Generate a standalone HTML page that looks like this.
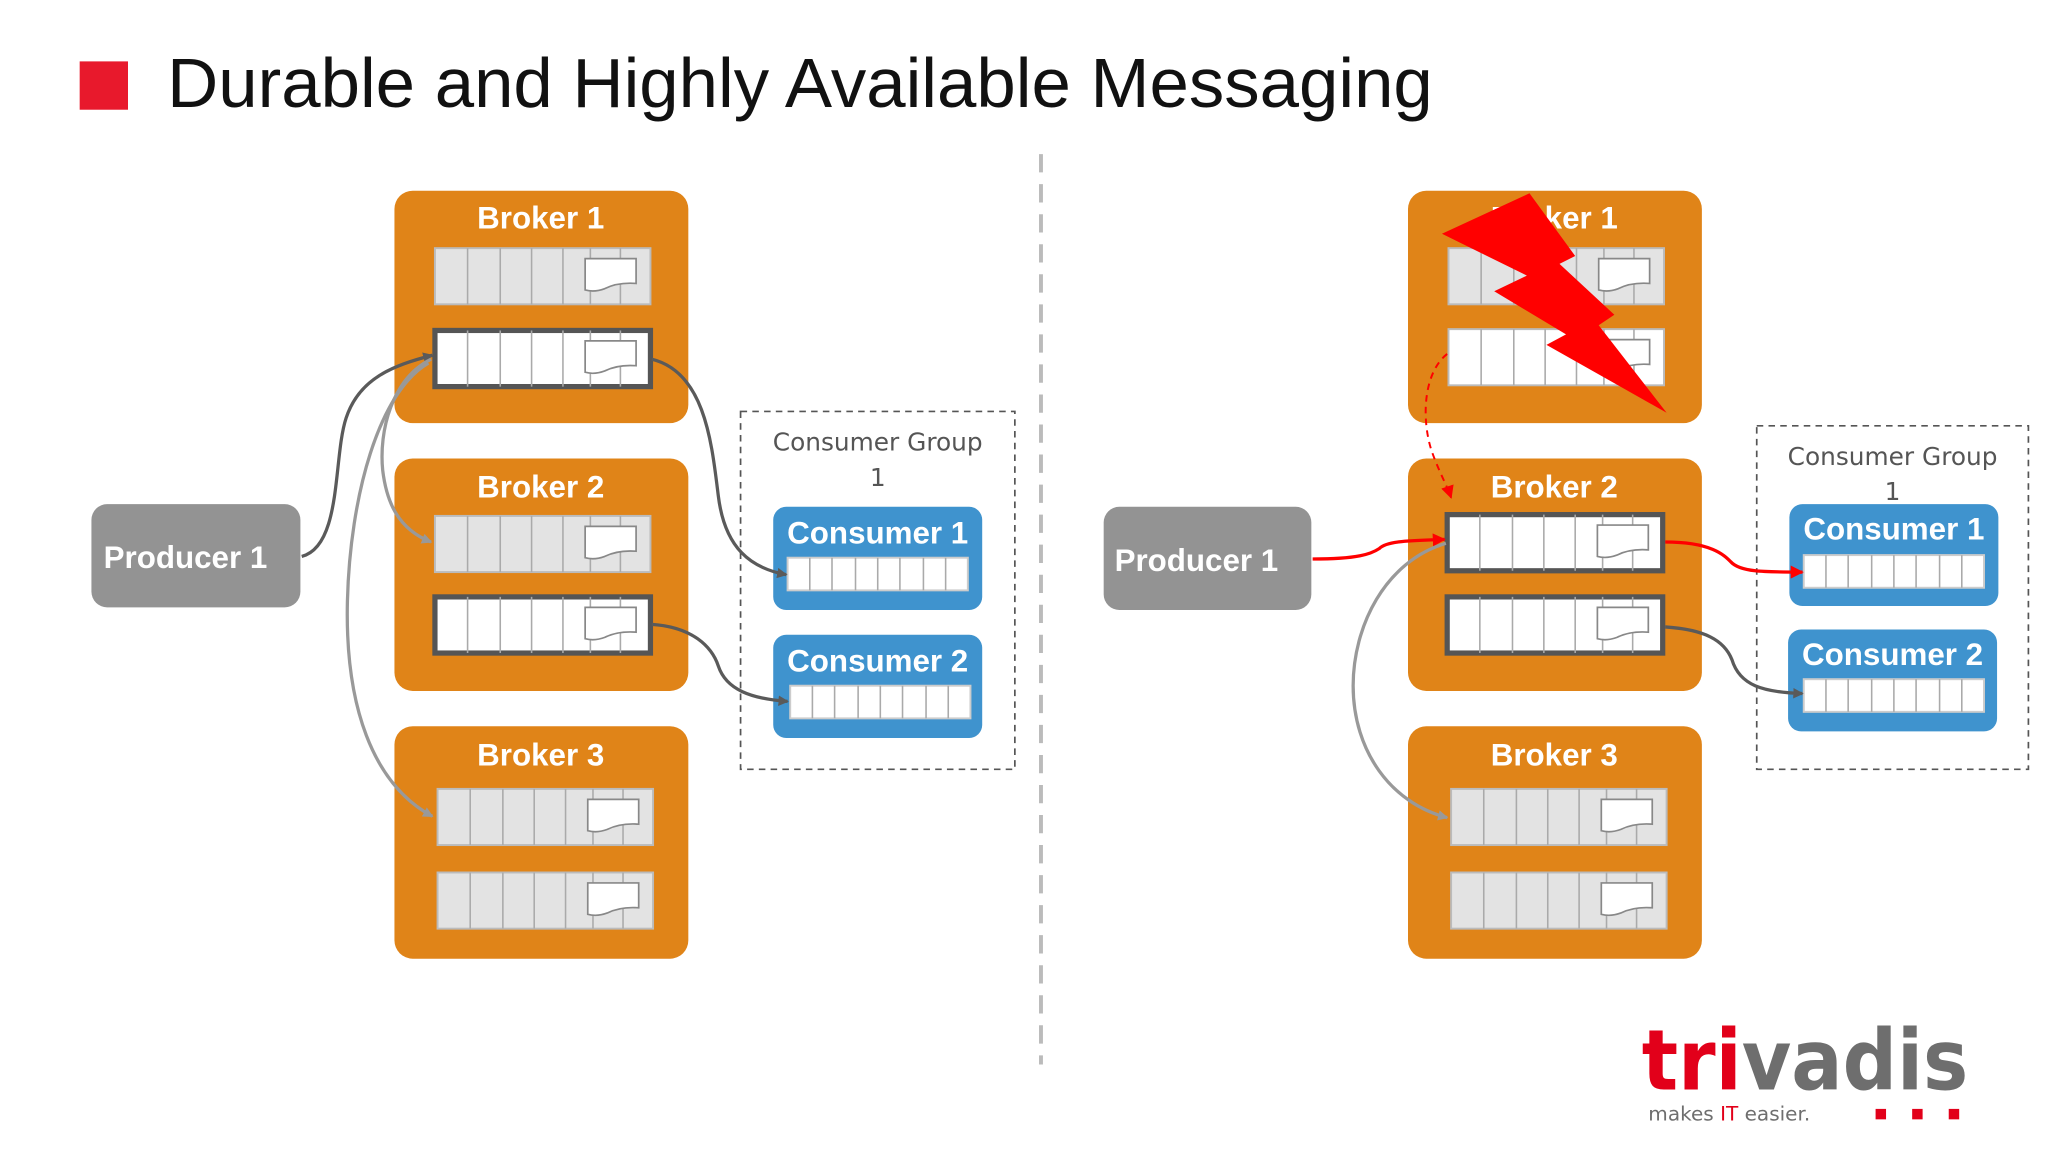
<!DOCTYPE html>
<html><head><meta charset="utf-8"><style>
html,body{margin:0;padding:0;background:#fff;}
svg{display:block;}
.bt{font-family:"Liberation Sans",sans-serif;font-weight:bold;fill:#fff;font-size:24px;text-anchor:middle;}
.cg{font-family:"DejaVu Sans","Liberation Sans",sans-serif;fill:#555;font-size:19px;text-anchor:middle;}
</style></head><body>
<svg width="2048" height="1152" viewBox="0 0 1568 882" xmlns="http://www.w3.org/2000/svg">
<defs>
  <g id="cells">
    <path d="M25 0V43M50 0V43M74 0V43M98 0V43M119 0V43M142 0V43" stroke="#aaa" stroke-width="1.2"/>
    <path d="M115 8H154V27Q140 26 130 31Q122 34 115 32Z" fill="#fff" stroke="#888" stroke-width="1.3"/>
  </g>
  <g id="rowL"><rect x="0" y="0" width="165" height="43" fill="#e3e3e3" stroke="#bbb" stroke-width="1.5"/><use href="#cells"/></g>
  <g id="rowW"><rect x="0" y="0" width="165" height="43" fill="#fff" stroke="#bbb" stroke-width="1.5"/><use href="#cells"/></g>
  <g id="rowD"><rect x="0" y="0" width="165" height="43" fill="#fff" stroke="#555" stroke-width="4"/><use href="#cells"/></g>
  <g id="crow"><rect x="0" y="0" width="138" height="25" fill="#fff" stroke="#ccc" stroke-width="1.5"/>
    <path d="M17 0V25M34 0V25M52 0V25M69 0V25M86 0V25M104 0V25M121 0V25" stroke="#aaa" stroke-width="1.2"/></g>
  <marker id="ad" markerWidth="8" markerHeight="8" refX="7" refY="4" orient="auto" markerUnits="userSpaceOnUse"><path d="M0 0L8 4L0 8Z" fill="#5a5a5a"/></marker>
  <marker id="al" markerWidth="8" markerHeight="8" refX="7" refY="4" orient="auto" markerUnits="userSpaceOnUse"><path d="M0 0L8 4L0 8Z" fill="#999"/></marker>
  <marker id="ar" markerWidth="10" markerHeight="10" refX="9" refY="5" orient="auto" markerUnits="userSpaceOnUse"><path d="M0 0L10 5L0 10Z" fill="#f00"/></marker>
</defs>

<rect x="61" y="47" width="37" height="37" fill="#e8192c"/>
<text x="128" y="82" font-family="Liberation Sans,sans-serif" font-size="53" fill="#111" textLength="969" lengthAdjust="spacingAndGlyphs">Durable and Highly Available Messaging</text>

<line x1="797" y1="118" x2="797" y2="815" stroke="#bbb" stroke-width="3" stroke-dasharray="14,9"/>

<!-- LEFT -->
<rect x="302" y="146" width="225" height="178" rx="14" fill="#e08418"/>
<text class="bt" x="414" y="175">Broker 1</text>
<use href="#rowL" x="333" y="190"/>
<use href="#rowD" x="333" y="253"/>
<rect x="302" y="351" width="225" height="178" rx="14" fill="#e08418"/>
<text class="bt" x="414" y="381">Broker 2</text>
<use href="#rowL" x="333" y="395"/>
<use href="#rowD" x="333" y="457"/>
<rect x="302" y="556" width="225" height="178" rx="14" fill="#e08418"/>
<text class="bt" x="414" y="586">Broker 3</text>
<use href="#rowL" x="335" y="604"/>
<use href="#rowL" x="335" y="668"/>

<rect x="70" y="386" width="160" height="79" rx="12" fill="#939393"/>
<text class="bt" x="142" y="435">Producer 1</text>

<rect x="567" y="315" width="210" height="274" fill="none" stroke="#555" stroke-width="1.3" stroke-dasharray="5,4"/>
<text class="cg" x="672" y="345">Consumer Group</text>
<text class="cg" x="672" y="372">1</text>
<rect x="592" y="388" width="160" height="79" rx="10" fill="#3f93ce"/>
<text class="bt" x="672" y="416">Consumer 1</text>
<use href="#crow" x="603" y="427"/>
<rect x="592" y="486" width="160" height="79" rx="10" fill="#3f93ce"/>
<text class="bt" x="672" y="514">Consumer 2</text>
<use href="#crow" x="605" y="525"/>

<path d="M231 426C262 418 255 350 265 320C275 290 300 280 331 272" fill="none" stroke="#5a5a5a" stroke-width="2.5" marker-end="url(#ad)"/>
<path d="M330 275C300 290 290 330 293 360C296 385 305 405 330 415" fill="none" stroke="#999" stroke-width="2.5" marker-end="url(#al)"/>
<path d="M328 278C290 300 268 380 266 460C264 540 285 600 331 625" fill="none" stroke="#999" stroke-width="2.5" marker-end="url(#al)"/>
<path d="M499 275C540 285 545 340 550 380C555 420 575 435 602 440" fill="none" stroke="#5a5a5a" stroke-width="2.5" marker-end="url(#ad)"/>
<path d="M499 478C530 480 545 495 550 510C556 528 575 535 603 537" fill="none" stroke="#5a5a5a" stroke-width="2.5" marker-end="url(#ad)"/>

<!-- RIGHT -->
<rect x="1078" y="146" width="225" height="178" rx="14" fill="#e08418"/>
<text class="bt" x="1190" y="175">Broker 1</text>
<use href="#rowL" x="1109" y="190"/>
<use href="#rowW" x="1109" y="252"/>
<rect x="1078" y="351" width="225" height="178" rx="14" fill="#e08418"/>
<text class="bt" x="1190" y="381">Broker 2</text>
<use href="#rowD" x="1108" y="394"/>
<use href="#rowD" x="1108" y="457"/>
<rect x="1078" y="556" width="225" height="178" rx="14" fill="#e08418"/>
<text class="bt" x="1190" y="586">Broker 3</text>
<use href="#rowL" x="1111" y="604"/>
<use href="#rowL" x="1111" y="668"/>

<polygon points="1104,179 1171,148 1206,196 1194,202 1236,241 1224,249 1276,316 1184,264 1199,256 1144,223 1169,211" fill="#ff0000"/>

<rect x="845" y="388" width="159" height="79" rx="12" fill="#939393"/>
<text class="bt" x="916" y="437">Producer 1</text>

<rect x="1345" y="326" width="208" height="263" fill="none" stroke="#555" stroke-width="1.3" stroke-dasharray="5,4"/>
<text class="cg" x="1449" y="356">Consumer Group</text>
<text class="cg" x="1449" y="383">1</text>
<rect x="1370" y="386" width="160" height="78" rx="10" fill="#3f93ce"/>
<text class="bt" x="1450" y="413">Consumer 1</text>
<use href="#crow" x="1381" y="425"/>
<rect x="1369" y="482" width="160" height="78" rx="10" fill="#3f93ce"/>
<text class="bt" x="1449" y="509">Consumer 2</text>
<use href="#crow" x="1381" y="520"/>

<path d="M1005 428C1040 428 1050 424 1056 420C1062 414 1080 414 1106 413" fill="none" stroke="#f00" stroke-width="2.5" marker-end="url(#ar)"/>
<path d="M1275 415C1310 415 1320 425 1325 430C1332 438 1350 438 1380 438" fill="none" stroke="#f00" stroke-width="2.5" marker-end="url(#ar)"/>
<path d="M1275 480C1305 482 1320 490 1326 505C1332 525 1350 530 1380 531" fill="none" stroke="#5a5a5a" stroke-width="2.5" marker-end="url(#ad)"/>
<path d="M1107 416C1060 430 1036 480 1036 525C1036 575 1065 615 1108 626" fill="none" stroke="#999" stroke-width="2.5" marker-end="url(#al)"/>
<path d="M1108 271C1090 285 1088 320 1096 345C1102 362 1108 372 1111 381" fill="none" stroke="#f00" stroke-width="1.5" stroke-dasharray="5,4" marker-end="url(#ar)"/>

<!-- logo -->
<text x="1257" y="834" font-family="DejaVu Sans,Liberation Sans,sans-serif" font-weight="bold" font-size="64" textLength="250" lengthAdjust="spacingAndGlyphs"><tspan fill="#e2001a">tri</tspan><tspan fill="#6e6e6e">vadis</tspan></text>
<text x="1262" y="858" font-family="DejaVu Sans,Liberation Sans,sans-serif" font-size="15" fill="#6e6e6e" textLength="124" lengthAdjust="spacingAndGlyphs">makes <tspan fill="#e2001a">IT</tspan> easier.</text>
<rect x="1436" y="849" width="8" height="8" fill="#e2001a"/>
<rect x="1464" y="849" width="8" height="8" fill="#e2001a"/>
<rect x="1492" y="849" width="8" height="8" fill="#e2001a"/>
</svg>
</body></html>
